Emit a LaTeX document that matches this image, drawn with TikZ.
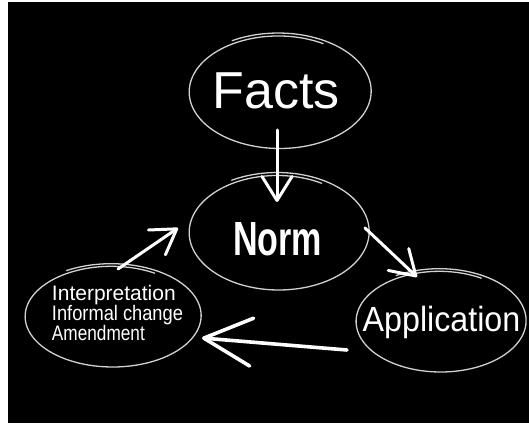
\documentclass[tikz,border=0pt]{standalone}
\usepackage{fontspec}
\setmainfont{Liberation Sans}
\usetikzlibrary{arrows.meta,shapes.geometric,calc}
\tikzset{
  sk/.style={draw=black!18, line width=1.3pt, line cap=round},
  lbl/.style={ellipse, draw=none, text=white, inner sep=0pt, text depth=0pt},
  arr/.style={draw=white, line width=3pt, line cap=round,
    -{Straight Barb[length=24pt,width=30pt,round]}},
  bigarr/.style={draw=white, line width=3.6pt, line cap=round,
    -{Straight Barb[length=48pt,width=48pt,round]}}
}
\newcommand\sketchell[4]{\draw[sk] plot[domain=60:480,samples=150,smooth,variable=\t]
  ({#1+#3*(0.97+0.06*(\t-60)/420)*cos(\t)},{#2+#4*(0.97+0.06*(\t-60)/420)*sin(\t)});}
\begin{document}
\begin{tikzpicture}[x=1pt,y=1pt]
\useasboundingbox (0,0) rectangle (529,423);
\fill[white] (0,0) rectangle (529,423);
\fill[black] (8,0) rectangle (529,421);

% sketchy ellipses
\sketchell{279}{331.5}{91}{57}
\sketchell{278}{191}{90}{58}
\sketchell{440}{102}{85}{51}
\sketchell{112}{107}{88}{51}

% labels
\node[lbl, minimum width=180pt, minimum height=110pt] (facts) at (276,332)
  {\fontsize{52}{52}\selectfont Facts};
\node[lbl, minimum width=178pt, minimum height=112pt] (norm) at (277.5,184)
  {\fontsize{48}{48}\selectfont\bfseries\scalebox{0.71}[1]{Norm}};
\node[lbl, minimum width=168pt, minimum height=100pt] (app) at (441.5,104)
  {\fontsize{35}{35}\selectfont\scalebox{0.92}[1]{Application}};
\node[lbl, align=left, font=\fontsize{21}{20}\selectfont,
      minimum width=170pt, minimum height=98pt] (left) at (117.5,110.5)
  {Interpretation\\
   \scalebox{0.87}[1]{Informal change}\\
   \scalebox{0.82}[1]{Amendment}};

% connectors
\draw[arr] ($(facts.center)+(1,-39)$) -- ($(norm.center)+(-0.5,37)$);
\draw[arr] ($(norm.center)+(87.5,11)$) -- ($(app.center)+(-24.5,42)$);
\draw[bigarr] ($(app.center)+(-94.5,-31)$) -- ($(left.center)+(84.5,-25.5)$);
\draw[arr] ($(left.center)+(0.5,43.5)$) -- ($(norm.center)+(-99.5,11)$);
\end{tikzpicture}
\end{document}
